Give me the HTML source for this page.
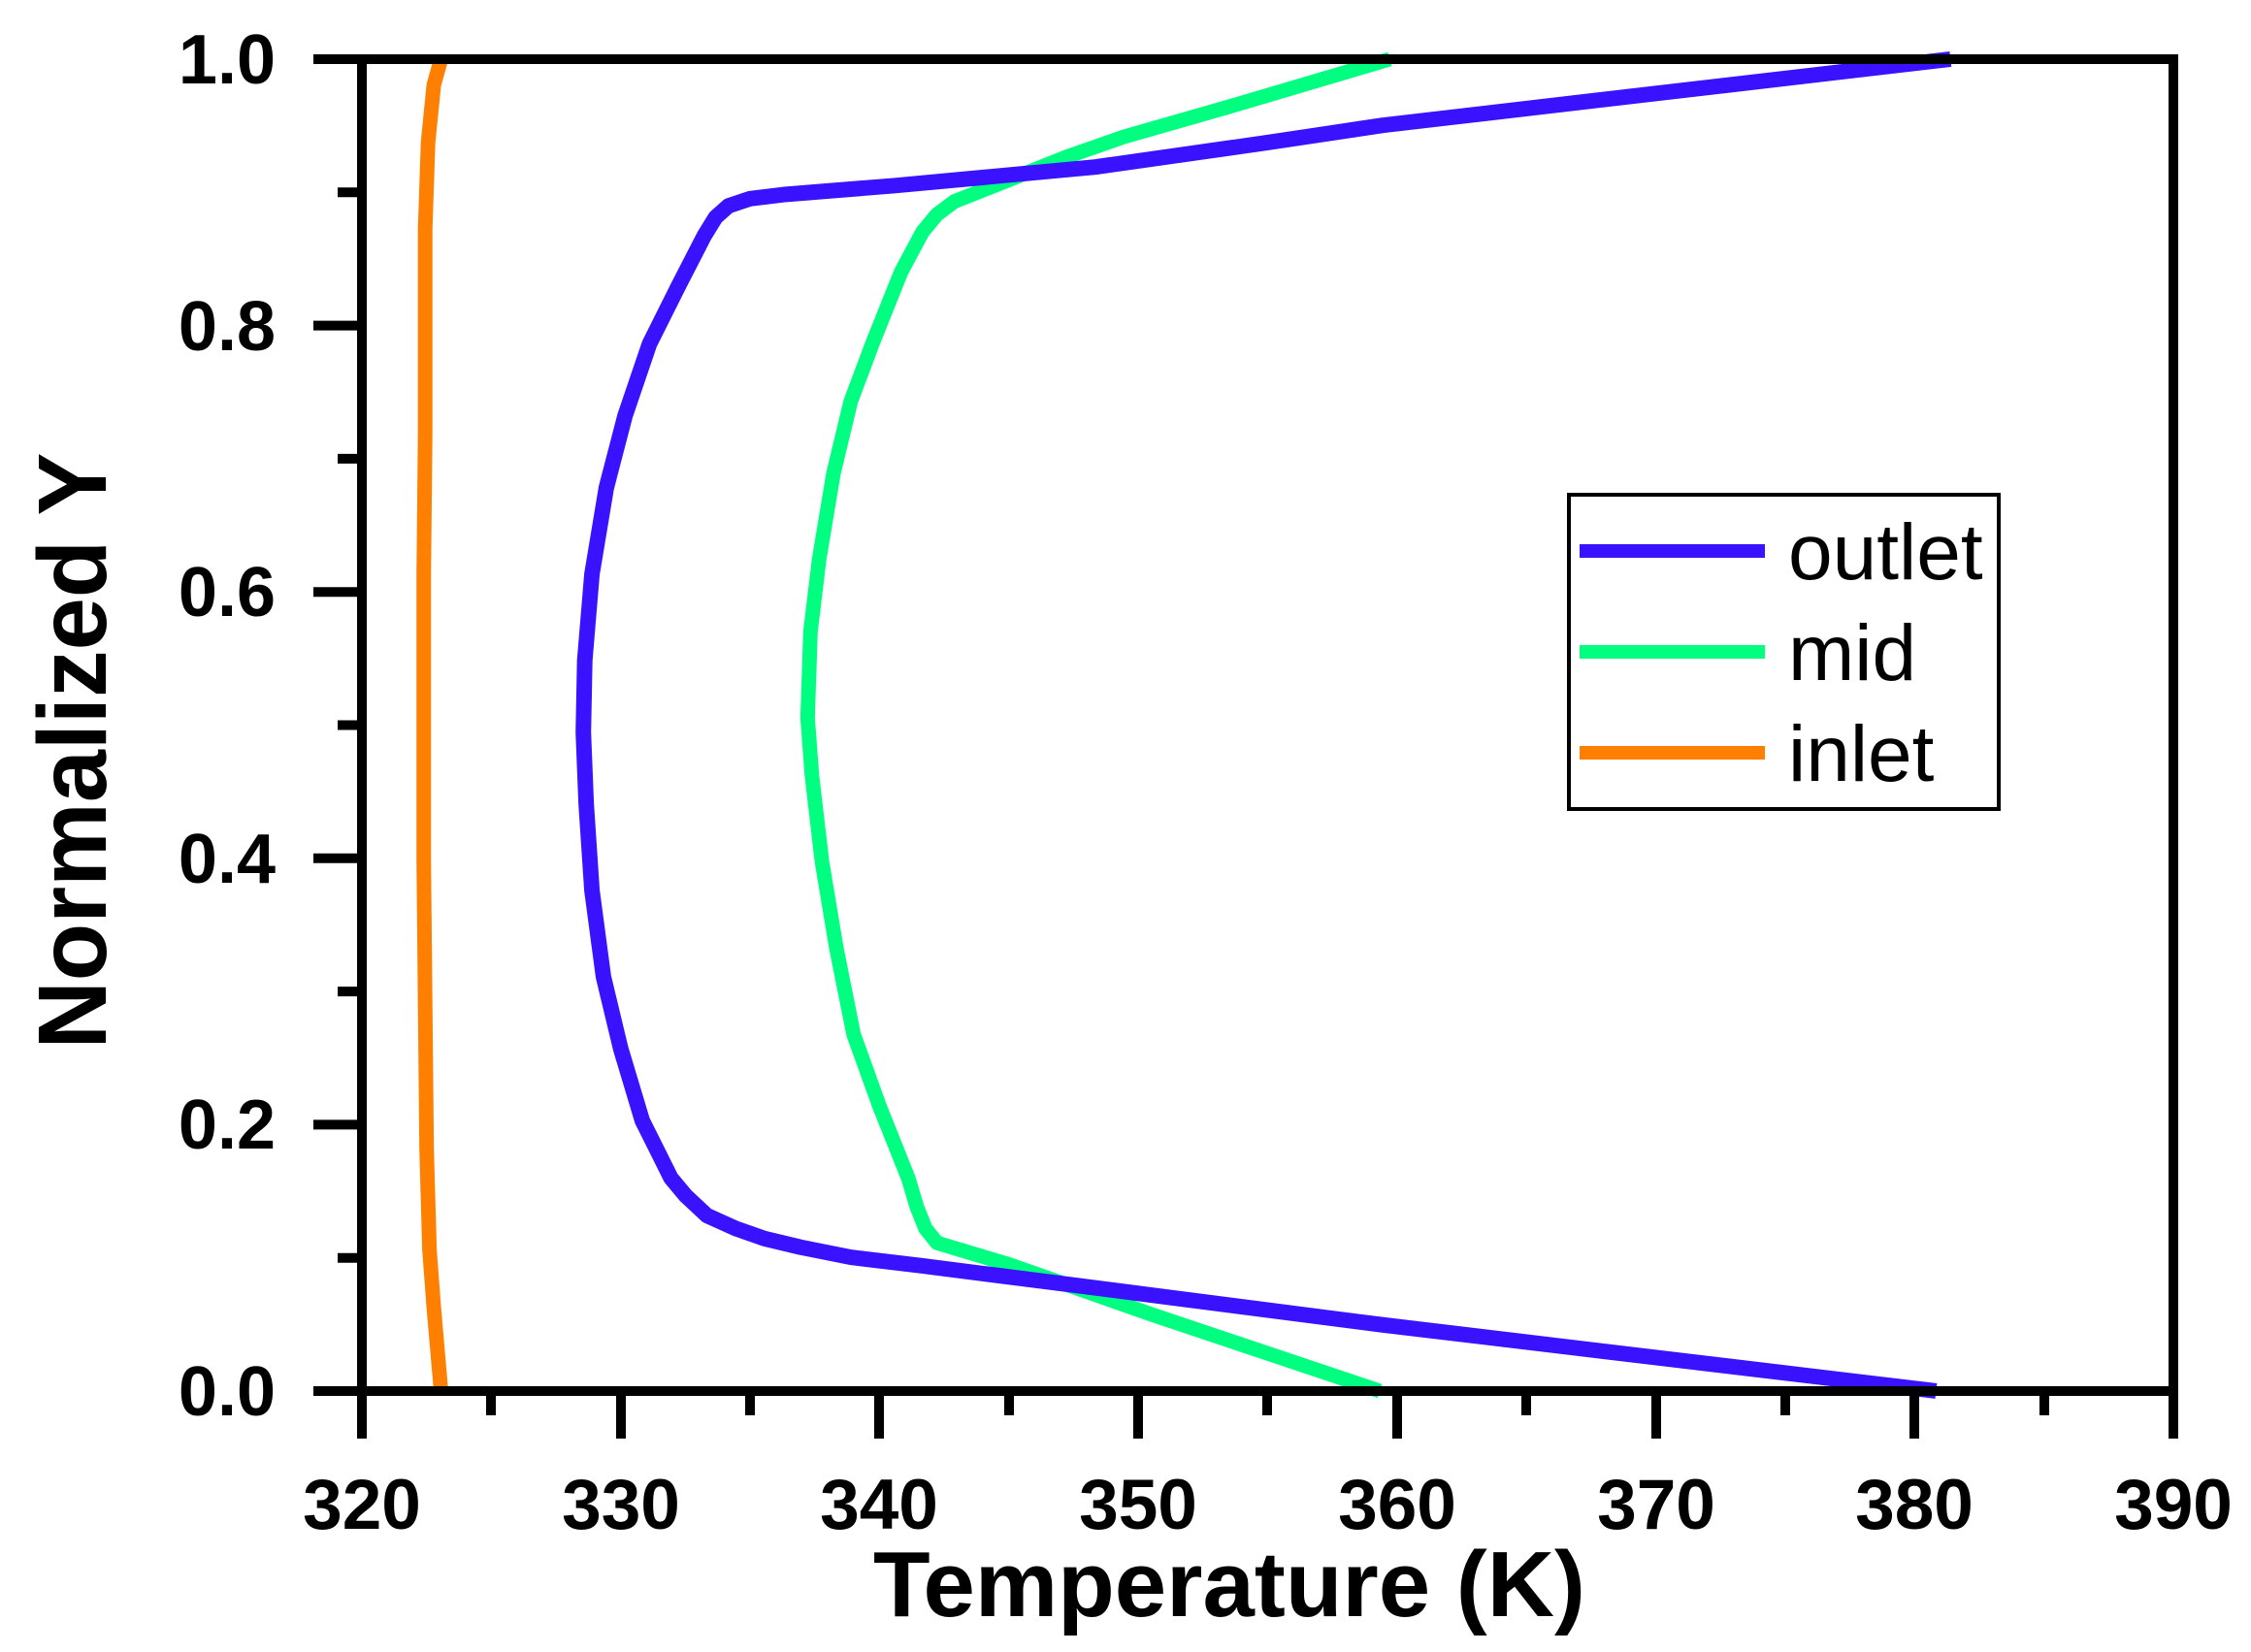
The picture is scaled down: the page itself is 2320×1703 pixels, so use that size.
<!DOCTYPE html>
<html><head><meta charset="utf-8"><style>
html,body{margin:0;padding:0;background:#fff;}
svg{display:block;}
text{font-family:"Liberation Sans",Arial,sans-serif;}
</style></head><body>
<svg width="2320" height="1703" viewBox="0 0 2320 1703" xmlns="http://www.w3.org/2000/svg">
<rect width="2320" height="1703" fill="#fff"/>
<g fill="none" stroke-linejoin="round" stroke-linecap="butt" transform="matrix(1.4817,0,0,1.4827,2.6,-1.3)">
<polyline vector-effect="non-scaling-stroke" stroke="#ff7f00" stroke-width="15" points="305,968 300,910 297,870 295,800 294,700 293,600 293,500 293,400 294,300 294,160 296,100 300,60 305,42"/>
<polyline vector-effect="non-scaling-stroke" stroke="#00ff80" stroke-width="15" points="958,968 800,915 700,880 660,868 650,865 642,855 636,840 630,820 610,770 592,720 580,660 570,600 563,540 560,500 562,440 568,390 578,330 590,280 605,240 625,190 640,162 650,150 662,141 700,126 740,110 780,96 850,76 965,42"/>
<polyline vector-effect="non-scaling-stroke" stroke="#3a12ff" stroke-width="16" points="1345,968 960,922 750,895 640,881 590,875 555,868 530,862 510,855 490,846 475,832 465,820 455,800 445,780 430,730 418,680 410,620 406,560 404,510 405,460 410,400 420,340 433,290 450,240 470,200 488,165 496,152 505,144 520,139 545,136 620,130 760,117 880,100 960,88 1355,42"/>
</g>
<g stroke="#000" stroke-width="10" fill="none">
<line x1="323" y1="61" x2="2245" y2="61"/>
<line x1="2240" y1="56" x2="2240" y2="1483"/>
<line x1="323" y1="1434" x2="2245" y2="1434"/>
<line x1="373" y1="56" x2="373" y2="1483"/>
</g>
<g stroke="#000" stroke-width="10">
<line x1="323" y1="1159.4" x2="373" y2="1159.4"/>
<line x1="323" y1="884.8" x2="373" y2="884.8"/>
<line x1="323" y1="610.2" x2="373" y2="610.2"/>
<line x1="323" y1="335.6" x2="373" y2="335.6"/>
<line x1="348" y1="1296.7" x2="373" y2="1296.7"/>
<line x1="348" y1="1022.1" x2="373" y2="1022.1"/>
<line x1="348" y1="747.5" x2="373" y2="747.5"/>
<line x1="348" y1="472.9" x2="373" y2="472.9"/>
<line x1="348" y1="198.3" x2="373" y2="198.3"/>
<line x1="640" y1="1434" x2="640" y2="1483"/>
<line x1="906" y1="1434" x2="906" y2="1483"/>
<line x1="1173" y1="1434" x2="1173" y2="1483"/>
<line x1="1440" y1="1434" x2="1440" y2="1483"/>
<line x1="1707" y1="1434" x2="1707" y2="1483"/>
<line x1="1973" y1="1434" x2="1973" y2="1483"/>
<line x1="506" y1="1434" x2="506" y2="1459"/>
<line x1="773" y1="1434" x2="773" y2="1459"/>
<line x1="1040" y1="1434" x2="1040" y2="1459"/>
<line x1="1306" y1="1434" x2="1306" y2="1459"/>
<line x1="1573" y1="1434" x2="1573" y2="1459"/>
<line x1="1840" y1="1434" x2="1840" y2="1459"/>
<line x1="2107" y1="1434" x2="2107" y2="1459"/>
</g>
<g font-size="72" font-weight="bold" text-anchor="end" fill="#000">
<text x="284" y="86">1.0</text>
<text x="284" y="361">0.8</text>
<text x="284" y="635">0.6</text>
<text x="284" y="910">0.4</text>
<text x="284" y="1184">0.2</text>
<text x="284" y="1459">0.0</text>
</g>
<g font-size="73" font-weight="bold" text-anchor="middle" fill="#000">
<text x="373" y="1576">320</text>
<text x="640" y="1576">330</text>
<text x="906" y="1576">340</text>
<text x="1173" y="1576">350</text>
<text x="1440" y="1576">360</text>
<text x="1707" y="1576">370</text>
<text x="1973" y="1576">380</text>
<text x="2240" y="1576">390</text>
</g>
<text x="1267" y="1666" font-size="96" font-weight="bold" text-anchor="middle" textLength="734" lengthAdjust="spacingAndGlyphs">Temperature (K)</text>
<text transform="translate(109,774) rotate(-90)" font-size="100" font-weight="bold" text-anchor="middle" textLength="615" lengthAdjust="spacingAndGlyphs">Normalized Y</text>
<rect x="1617" y="510" width="443" height="324" fill="#fff" stroke="#000" stroke-width="4"/>
<line x1="1628" y1="568" x2="1819" y2="568" stroke="#3a12ff" stroke-width="14"/>
<line x1="1628" y1="672" x2="1819" y2="672" stroke="#00ff80" stroke-width="14"/>
<line x1="1628" y1="776" x2="1819" y2="776" stroke="#ff7f00" stroke-width="14"/>
<g font-size="82" fill="#000">
<text x="1843" y="597">outlet</text>
<text x="1843" y="701">mid</text>
<text x="1843" y="805">inlet</text>
</g>
</svg>
</body></html>
